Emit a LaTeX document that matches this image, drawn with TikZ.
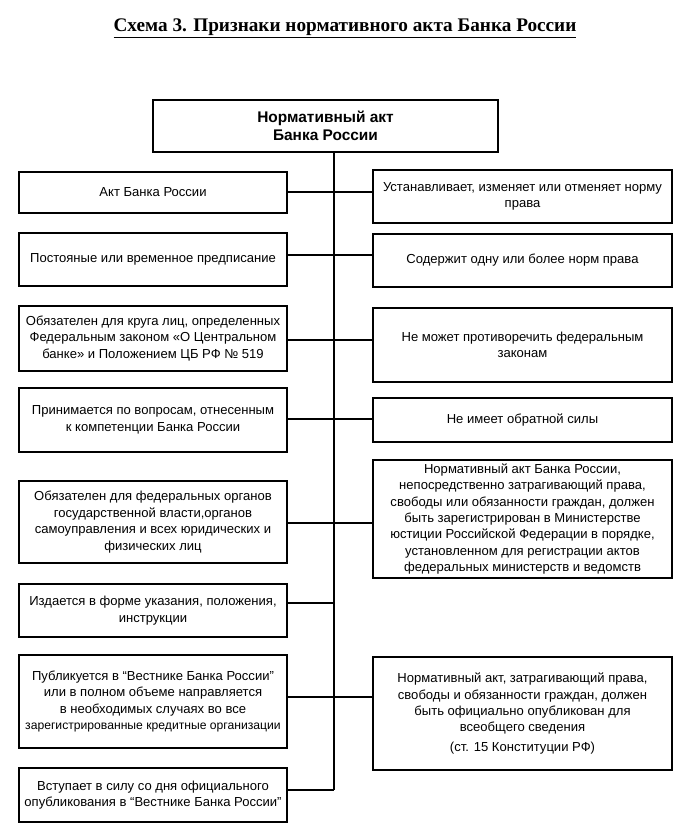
\documentclass[tikz,border=0pt]{standalone}
\usepackage{fontspec}
\setmainfont{Liberation Sans}
\newfontfamily\titlefont{Liberation Serif}
\usetikzlibrary{positioning}

\begin{document}
\begin{tikzpicture}[x=1bp, y=-1bp, line width=1.8bp, font=\fontsize{13.1}{16.5}\selectfont]
\tikzset{headbox/.style={draw, line width=2.4bp, align=center, minimum width=345bp, minimum height=52bp, font=\fontsize{15.5}{18}\selectfont\bfseries}, leftbox/.style={draw, line width=2.4bp, align=center, minimum width=268bp, inner sep=2bp}, rightbox/.style={draw, line width=2.4bp, align=center, minimum width=299bp, inner sep=1.5bp}}
\useasboundingbox (0,0) rectangle (679,834);
\node[font=\titlefont\fontsize{19.3}{22}\selectfont\bfseries] (title) at (345,28) {\underline{Схема 3. Признаки нормативного акта Банка России}};
\node[headbox] (head) at (325.5,126) {Нормативный акт\\Банка России};
\coordinate (jend) at (334,790);
\draw (head.south -| jend) -- (jend);
\foreach \name/\y/\h/\jy/\label in {la/192.5/41/192/{Акт Банка России}, lb/259.5/53/255/{Постояные или временное предписание}, lc/338.5/65/340/{Обязателен для круга лиц, определенных\\Федеральным законом «О Центральном\\банке» и Положением ЦБ РФ № 519}, ld/420/64/419/{Принимается по вопросам, отнесенным\\к компетенции Банка России}, le/522/82/523/{Обязателен для федеральных органов\\государственной власти,органов\\самоуправления и всех юридических и\\физических лиц}, lf/610.5/53/603/{Издается в форме указания, положения,\\инструкции}, lg/701.5/93/697/{Публикуется в “Вестнике Банка России”\\или в полном объеме направляется\\в необходимых случаях во все\\{\fontsize{12.2}{16.5}\selectfont зарегистрированные кредитные организации}}, lh/795/54/790/{Вступает в силу со дня официального\\опубликования в “Вестнике Банка России”}} {
  \node[leftbox, minimum height=\h bp] (\name) at (153,\y) {\label};
  \coordinate (j\name) at (334,\jy);
  \draw (\name.east |- j\name) -- (j\name);
}
\foreach \name/\y/\h/\jy/\label in {ra/196.5/53/192/{Устанавливает, изменяет или отменяет норму\\права}, rb/260.5/53/255/{Содержит одну или более норм права}, rc/345/74/340/{Не может противоречить федеральным\\законам}, rd/420/44/419/{Не имеет обратной силы}, re/519/118/523/{Нормативный акт Банка России,\\непосредственно затрагивающий права,\\свободы или обязанности граждан, должен\\быть зарегистрирован в Министерстве\\юстиции Российской Федерации в порядке,\\установленном для регистрации актов\\федеральных министерств и ведомств}, rf/713.5/113/697/{Нормативный акт, затрагивающий права,\\свободы и обязанности граждан, должен\\быть официально опубликован для\\всеобщего сведения\\[3pt](ст. 15 Конституции РФ)}} {
  \node[rightbox, minimum height=\h bp] (\name) at (522.5,\y) {\label};
  \coordinate (k\name) at (334,\jy);
  \draw (k\name) -- (\name.west |- k\name);
}
\end{tikzpicture}
\end{document}
